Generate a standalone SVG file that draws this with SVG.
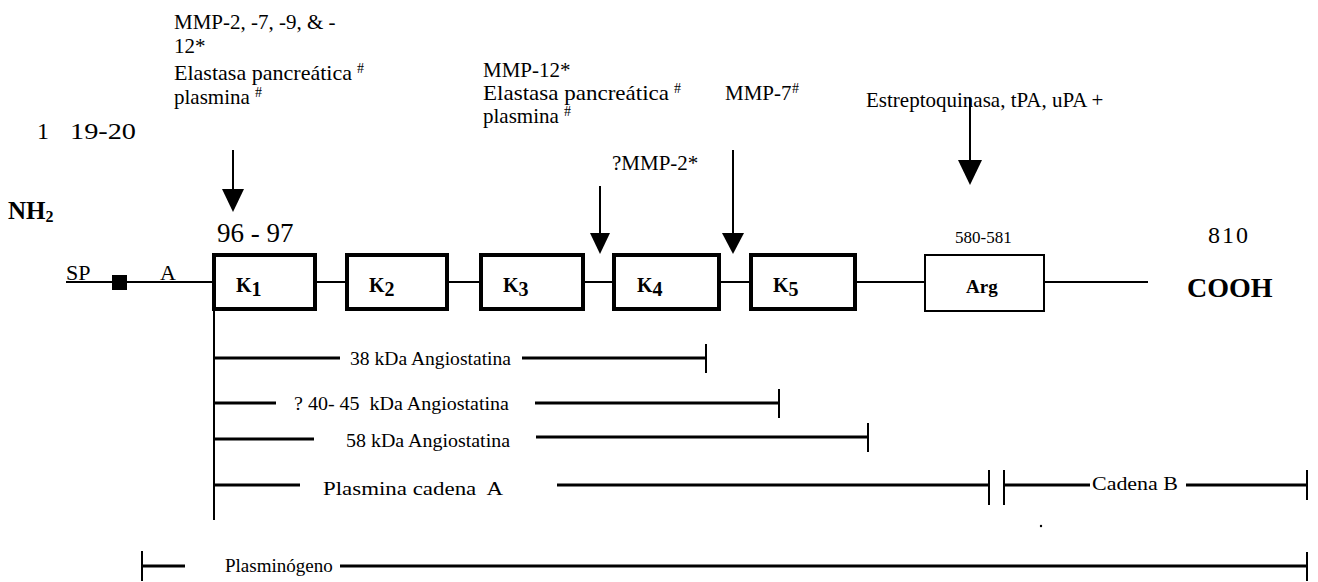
<svg xmlns="http://www.w3.org/2000/svg" width="1318" height="582" viewBox="0 0 1318 582">
<defs>
<style>
.t{font-family:"Liberation Serif","Times New Roman",serif;fill:#000}
.b{font-weight:bold}
.sup{font-family:"Liberation Serif","Times New Roman",serif;fill:#000;font-size:14px}
.ln{stroke:#000;stroke-width:2;fill:none}
.bar{stroke:#000;stroke-width:3;fill:none}
.tick{stroke:#000;stroke-width:2;fill:none}
.kbox{fill:#fff;stroke:#000;stroke-width:4}
.abox{fill:#fff;stroke:#000;stroke-width:2}
.head{fill:#000}
</style>
</defs>
<rect width="1318" height="582" fill="#fff"/>

<g id="labels-top">
<text class="t" x="174" y="29" font-size="21">MMP-2, -7, -9, &amp; -</text>
<text class="t" x="174" y="53" font-size="21">12*</text>
<text class="t" x="174" y="80" font-size="21" textLength="178" lengthAdjust="spacingAndGlyphs">Elastasa pancreática</text>
<text class="sup" x="357" y="73">#</text>
<text class="t" x="174" y="104" font-size="21">plasmina</text>
<text class="sup" x="255" y="97">#</text>

<text class="t" x="483" y="77" font-size="21">MMP-12*</text>
<text class="t" x="483" y="100" font-size="21" textLength="186" lengthAdjust="spacingAndGlyphs">Elastasa pancreática</text>
<text class="sup" x="674" y="93">#</text>
<text class="t" x="483" y="123" font-size="21">plasmina</text>
<text class="sup" x="564" y="116">#</text>

<text class="t" x="725" y="100" font-size="21">MMP-7</text>
<text class="sup" x="792" y="93">#</text>
<text class="t" x="612" y="170" font-size="21">?MMP-2*</text>
<text class="t" x="866" y="107" font-size="21">Estreptoquinasa, tPA, uPA +</text>
<text class="t" x="37" y="139" font-size="24">1</text>
<text class="t" x="70" y="139" font-size="24" textLength="66" lengthAdjust="spacingAndGlyphs">19-20</text>
<text class="t b" x="8" y="219" font-size="25">NH<tspan font-size="16" dy="3">2</tspan></text>
<text class="t" x="217" y="242" font-size="27">96 - 97</text>
<text class="t" x="955" y="243" font-size="17">580-581</text>
<text class="t" x="1208" y="243" font-size="24" letter-spacing="2">810</text>
<text class="t b" x="1187" y="297" font-size="28">COOH</text>
<text class="t" x="66" y="280" font-size="22">SP</text>
<text class="t" x="160" y="280" font-size="22">A</text>
</g>

<g id="connectors">
<line class="ln" x1="66" y1="282" x2="214" y2="282"/>
<line class="ln" x1="315" y1="282" x2="347" y2="282"/>
<line class="ln" x1="447" y1="282" x2="481" y2="282"/>
<line class="ln" x1="583" y1="282" x2="614" y2="282"/>
<line class="ln" x1="719" y1="282" x2="751" y2="282"/>
<line class="ln" x1="855" y1="282" x2="925" y2="282"/>
<line class="ln" x1="1044" y1="282" x2="1148" y2="282"/>
<line class="ln" x1="233" y1="150" x2="233" y2="192"/>
<polygon class="head" points="222,189 244,189 233,212"/>
<line class="ln" x1="600" y1="186" x2="600" y2="236"/>
<polygon class="head" points="590,233 610,233 600,254"/>
<line class="ln" x1="733" y1="150" x2="733" y2="236"/>
<polygon class="head" points="722,233 744,233 733,254"/>
<line class="ln" x1="970" y1="98" x2="970" y2="163"/>
<polygon class="head" points="958,160 982,160 970,185"/>
</g>

<g id="sp-marker"><rect x="112" y="275" width="15" height="15" fill="#000"/></g>

<g id="K1"><rect class="kbox" x="214" y="255" width="101" height="54"/><text class="t b" x="236" y="292" font-size="20">K<tspan dy="4">1</tspan></text></g>
<g id="K2"><rect class="kbox" x="347" y="255" width="100" height="54"/><text class="t b" x="369" y="292" font-size="20">K<tspan dy="4">2</tspan></text></g>
<g id="K3"><rect class="kbox" x="481" y="255" width="102" height="54"/><text class="t b" x="503" y="292" font-size="20">K<tspan dy="4">3</tspan></text></g>
<g id="K4"><rect class="kbox" x="614" y="255" width="105" height="54"/><text class="t b" x="637" y="292" font-size="20">K<tspan dy="4">4</tspan></text></g>
<g id="K5"><rect class="kbox" x="751" y="255" width="104" height="54"/><text class="t b" x="773" y="292" font-size="20">K<tspan dy="4">5</tspan></text></g>
<g id="Arg"><rect class="abox" x="925" y="255" width="119" height="56"/><text class="t b" x="966" y="293" font-size="19">Arg</text></g>

<g id="fragments">
<line class="tick" x1="214" y1="311" x2="214" y2="520"/>
<line class="bar" x1="214" y1="358" x2="340" y2="358"/>
<text class="t" x="350" y="365" font-size="19" textLength="161" lengthAdjust="spacingAndGlyphs">38 kDa Angiostatina</text>
<line class="bar" x1="522" y1="358" x2="706" y2="358"/>
<line class="tick" x1="706" y1="344" x2="706" y2="373"/>

<line class="bar" x1="214" y1="403" x2="276" y2="403"/>
<text class="t" x="294" y="410" font-size="19" xml:space="preserve" textLength="215" lengthAdjust="spacingAndGlyphs">? 40- 45  kDa Angiostatina</text>
<line class="bar" x1="535" y1="403" x2="779" y2="403"/>
<line class="tick" x1="779" y1="389" x2="779" y2="418"/>

<line class="bar" x1="214" y1="439" x2="314" y2="439"/>
<text class="t" x="346" y="447" font-size="19" textLength="164" lengthAdjust="spacingAndGlyphs">58 kDa Angiostatina</text>
<line class="bar" x1="536" y1="437" x2="868" y2="437"/>
<line class="tick" x1="868" y1="423" x2="868" y2="452"/>

<line class="bar" x1="214" y1="485" x2="300" y2="485"/>
<text class="t" x="323" y="495" font-size="19" xml:space="preserve" textLength="180" lengthAdjust="spacingAndGlyphs">Plasmina cadena  A</text>
<line class="bar" x1="557" y1="485" x2="989" y2="485"/>
<line class="tick" x1="989" y1="470" x2="989" y2="505"/>
<line class="tick" x1="1004" y1="470" x2="1004" y2="505"/>
<line class="bar" x1="1004" y1="485" x2="1090" y2="485"/>
<text class="t" x="1092" y="490" font-size="19" textLength="86" lengthAdjust="spacingAndGlyphs">Cadena B</text>
<line class="bar" x1="1186" y1="485" x2="1307" y2="485"/>
<line class="tick" x1="1307" y1="470" x2="1307" y2="500"/>
<circle cx="1041" cy="526" r="1.2" fill="#000"/>

<line class="tick" x1="142" y1="551" x2="142" y2="581"/>
<line class="bar" x1="142" y1="566" x2="185" y2="566"/>
<text class="t" x="225" y="572" font-size="19">Plasminógeno</text>
<line class="bar" x1="340" y1="566" x2="1307" y2="566"/>
<line class="tick" x1="1307" y1="552" x2="1307" y2="581"/>
</g>
</svg>
